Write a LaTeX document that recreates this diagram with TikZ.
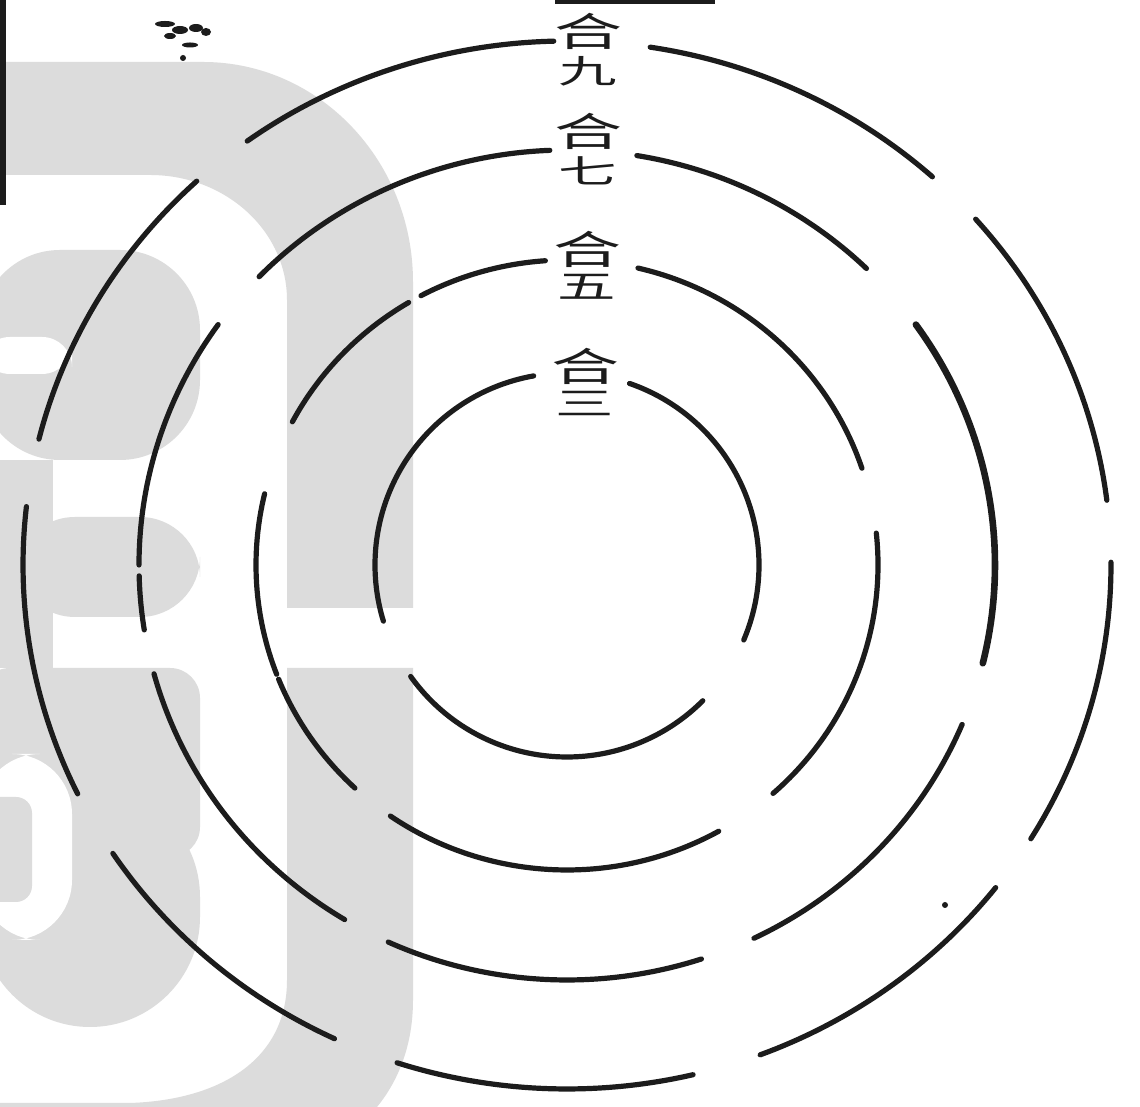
\documentclass[tikz,border=0pt]{standalone}
\usepackage{fontspec}
\usepackage{graphicx}
\newfontfamily\cjk{Noto Sans CJK SC}
\definecolor{wm}{RGB}{220,220,220}
\definecolor{ink}{RGB}{28,28,28}
\newcommand{\hestk}[1]{\vbox{\offinterlineskip\halign{\hfil##\hfil\cr
  \scalebox{1}[0.58]{\cjk 合}\cr\noalign{\kern3.5pt}
  \scalebox{0.86}[0.48]{\cjk #1}\cr}}}
\newcommand{\rarc}[5][]{\draw[ring,#1] (O) ++(#4:#2 and #3) arc[start angle=#4, end angle=#5, x radius=#2, y radius=#3];}
\tikzset{
  ring/.style={draw=ink, line width=2.6pt, line cap=round},
  lab/.style={inner sep=0pt, font=\fontsize{34}{34}\selectfont, text=ink},
  wmfill/.style={fill=wm, draw=none},
  blot/.style={fill=ink, draw=none}
}
\begin{document}
\begin{tikzpicture}[x=0.5pt,y=0.5pt]
\useasboundingbox (0,0) rectangle (1140,1107);
\clip (0,0) rectangle (1140,1107);
\fill[white] (0,0) rectangle (1140,1107);
% ---- grey watermark ----
\path[wmfill] (0,1045) -- (203,1045) arc[start angle=90, end angle=0, x radius=210, y radius=220]
  -- (413,499) -- (287,499) -- (287,807) arc[start angle=0, end angle=90, x radius=137, y radius=125]
  -- (0,932) -- cycle;
\path[wmfill] (287,439) -- (413,439) -- (413,107) .. controls (413,57) and (395,22) .. (377,0)
  -- (0,0) -- (0,4) -- (130,4) .. controls (220,7) and (287,47) .. (287,127) -- cycle;
\path[wmfill, rounded corners=40] (-20,647) rectangle (200,857);
\path[fill=white, rounded corners=15] (-20,733) rectangle (72,770);
\path[wmfill] (0,439) rectangle (53,647);
\path[wmfill, rounded corners=30] (15,490) rectangle (200,590);
\path[wmfill, rounded corners=55] (-20,80) rectangle (200,320);
\path[wmfill, rounded corners=15] (-20,250) rectangle (200,439);
\path[fill=white, rounded corners=30] (-20,167) rectangle (72,353);
\path[wmfill, rounded corners=8] (-20,205) rectangle (32,310);
% ---- scan marks ----
\path[blot] (0,902) rectangle (6,1107);
\path[blot] (555,1103) rectangle (715,1107);
\path[blot] (165,1083) ellipse [x radius=10, y radius=3];
\path[blot] (180,1077) ellipse [x radius=8, y radius=4];
\path[blot] (196,1079) ellipse [x radius=7, y radius=4];
\path[blot] (206,1075) ellipse [x radius=5, y radius=4];
\path[blot] (170,1071) ellipse [x radius=6, y radius=3];
\path[blot] (190,1062) ellipse [x radius=8, y radius=2.5];
\path[blot] (183,1049) ellipse [x radius=3, y radius=3];
\path[blot] (945,202) circle [radius=3];
% ---- centre ----
\coordinate (O) at (567,542);
% ring 1 (合三)
\rarc{192}{192}{100}{197}
\rarc{192}{192}{215.5}{315}
\rarc{192}{192}{-23}{71}
% ring 2 (合五)
\rarc{311}{305}{94}{118}
\rarc{311}{305}{120.6}{152}
\rarc{311}{305}{166.5}{201}
\rarc{311}{305}{202}{227}
\rarc{311}{305}{235.4}{299.2}
\rarc{311}{305}{-48.5}{6}
\rarc{311}{305}{18.5}{76.8}
% ring 3 (合七)
\rarc{428}{415}{92.3}{136}
\rarc{428}{415}{144.6}{180}
\rarc{428}{415}{181.5}{189}
\rarc{428}{415}{195.2}{238.7}
\rarc{428}{415}{245.3}{288.3}
\rarc{428}{415}{295.9}{337.4}
\rarc[line width=3.3pt]{428}{415}{-13.7}{35.4}
\rarc{428}{415}{45.6}{80.6}
% ring 4 (合九)
\rarc{544}{524}{91.4}{126}
\rarc{544}{524}{132.9}{166.1}
\rarc{544}{524}{173.6}{205.9}
\rarc{544}{524}{213.4}{244.7}
\rarc{544}{524}{251.8}{283.4}
\rarc{544}{524}{290.8}{322}
\rarc{544}{524}{-31.5}{0.3}
\rarc{544}{524}{7.1}{41.3}
\rarc{544}{524}{47.8}{81.2}
% ---- labels ----
\node[lab] (h9) at (588,1057) {\hestk{九}};
\node[lab] (h7) at (588,958) {\hestk{七}};
\node[lab] (h5) at (587,842) {\hestk{五}};
\node[lab] (h3) at (585,725) {\hestk{三}};
\end{tikzpicture}
\end{document}
